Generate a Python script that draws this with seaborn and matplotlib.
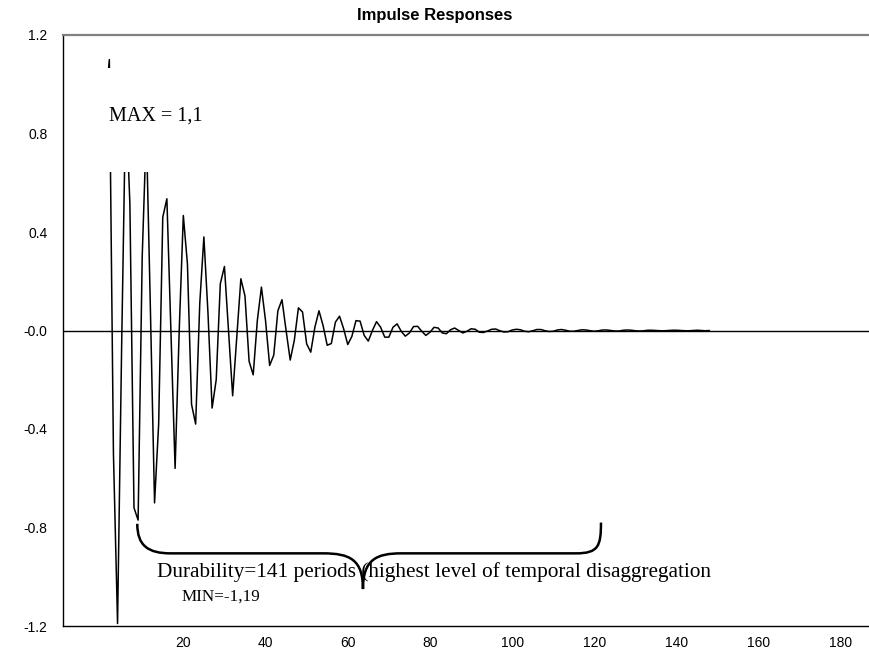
import matplotlib
matplotlib.use("Agg")
import matplotlib.pyplot as plt
from matplotlib.path import Path
from matplotlib.patches import PathPatch, Rectangle
from matplotlib.ticker import FixedLocator, FixedFormatter
import seaborn as sns
import pandas as pd

# impulse response, one value per period
periods = list(range(1, 149))
response = [
    0.90, 1.10, -0.50, -1.19, -0.06, 0.95, 0.515, -0.72, -0.77, 0.30,
    0.82, 0.08, -0.70, -0.38, 0.46, 0.535, -0.02, -0.56, 0.00, 0.467,
    0.27, -0.30, -0.38, 0.11, 0.38, 0.07, -0.315, -0.20, 0.19, 0.26,
    0.00, -0.265, -0.03, 0.21, 0.14, -0.125, -0.18, 0.04, 0.176, 0.04,
    -0.142, -0.10, 0.08, 0.125, 0.00, -0.12, -0.04, 0.092, 0.075, -0.054,
    -0.088, 0.013, 0.08, 0.02, -0.06, -0.053, 0.034, 0.058, 0.007, -0.057,
    -0.024, 0.04, 0.038, -0.02, -0.043, 0.00, 0.036, 0.013, -0.027, -0.027,
    0.013, 0.027, -0.003, -0.023, -0.01, 0.016, 0.017, -0.003, -0.02, -0.007,
    0.013, 0.01, -0.01, -0.013, 0.003, 0.01, 0.00, -0.01, -0.003, 0.007,
    0.005, -0.007, -0.008, -0.002, 0.005, 0.006, -0.001, -0.006, -0.005, 0.002,
    0.005, 0.003, -0.003, -0.005, -0.001, 0.004, 0.004, -0.001, -0.004, -0.003,
    0.002, 0.004, 0.001, -0.003, -0.003, 0.000, 0.003, 0.002, -0.001, -0.003,
    -0.001, 0.002, 0.002, 0.000, -0.002, -0.002, 0.001, 0.002, 0.001, -0.001,
    -0.002, -0.001, 0.001, 0.001, 0.000, -0.001, -0.001, 0.000, 0.001, 0.001,
    0.000, -0.001, -0.001, 0.000, 0.001, 0.000, -0.001, 0.000,
]

y_ticks = [-1.2, -0.8, -0.4, 0.0, 0.4, 0.8, 1.2]
y_tick_labels = ["-1.2", "-0.8", "-0.4", "-0.0", "0.4", "0.8", "1.2"]
x_ticks = [20, 40, 60, 80, 100, 120, 140, 160, 180]
x_tick_labels = ["20", "40", "60", "80", "100", "120", "140", "160", "180"]

title = "Impulse Responses"
max_text = "MAX = 1,1"
min_text = "MIN=-1,19"
dur_text = "Durability=141 periods (highest level of temporal disaggregation"

sns.set_style("white")
sans = ["Liberation Sans Narrow", "Liberation Sans", "DejaVu Sans"]
serif = ["Liberation Serif", "DejaVu Serif"]
plt.rcParams["font.family"] = sans
plt.rcParams["text.color"] = "black"
plt.rcParams["xtick.color"] = "black"
plt.rcParams["ytick.color"] = "black"
plt.rcParams["xtick.labelcolor"] = "black"
plt.rcParams["ytick.labelcolor"] = "black"

df = pd.DataFrame({"period": periods, "response": response})

fig = plt.figure(figsize=(8.69, 6.55), dpi=100)
ax = fig.add_axes([63 / 869, 29 / 655, 1 - 63 / 869, 591 / 655])

ax.axhline(0, color="black", lw=1.0, zorder=1)
sns.lineplot(data=df, x="period", y="response", color="black", lw=1.1,
             ax=ax, zorder=2)

# white box behind the MAX label hides the tall spikes
ax.add_patch(Rectangle((0.5, 0.645), 30, 0.423, facecolor="white",
                       edgecolor="none", zorder=3))
ax.text(1.92, 0.852, max_text, family=serif, fontsize=14.5,
        va="baseline", ha="left", zorder=4)

# curly brace under the decaying part
verts = [
    (8.8, -0.785),
    (8.8, -0.875), (11.5, -0.905), (17.0, -0.905),
    (54.0, -0.905),
    (60.5, -0.905), (63.7, -0.93), (63.7, -1.05),
    (63.7, -0.93), (67.0, -0.905), (73.0, -0.905),
    (115.5, -0.905),
    (121.0, -0.905), (121.6, -0.875), (121.6, -0.78),
]
codes = [Path.MOVETO,
         Path.CURVE4, Path.CURVE4, Path.CURVE4,
         Path.LINETO,
         Path.CURVE4, Path.CURVE4, Path.CURVE4,
         Path.CURVE4, Path.CURVE4, Path.CURVE4,
         Path.LINETO,
         Path.CURVE4, Path.CURVE4, Path.CURVE4]
ax.text(13.67, -1.0, dur_text, family=serif, fontsize=15.3,
        va="baseline", ha="left", zorder=4)
ax.text(19.6, -1.097, min_text, family=serif, fontsize=12.3,
        va="baseline", ha="left", zorder=4)
ax.add_patch(PathPatch(Path(verts, codes), facecolor="none",
                       edgecolor="black", lw=1.8, zorder=5))

ax.set_xlim(-9.27, 186.8)
ax.set_ylim(-1.2, 1.2)
ax.xaxis.set_major_locator(FixedLocator(x_ticks))
ax.xaxis.set_major_formatter(FixedFormatter(x_tick_labels))
ax.xaxis.set_minor_locator(FixedLocator(list(range(5, 190, 5))))
ax.yaxis.set_major_locator(FixedLocator(y_ticks))
ax.yaxis.set_major_formatter(FixedFormatter(y_tick_labels))
ax.tick_params(axis="x", which="both", direction="out", length=4.3,
               width=0.8, labelsize=10, pad=3)
ax.tick_params(axis="y", direction="out", length=8.6, width=0.8,
               labelsize=10, pad=2.5)
ax.set_xlabel("")
ax.set_ylabel("")

ax.spines["right"].set_visible(False)
ax.spines["left"].set_color("black")
ax.spines["left"].set_linewidth(1)
ax.spines["bottom"].set_color("black")
ax.spines["bottom"].set_linewidth(1)
ax.spines["top"].set_color("#808080")
ax.spines["top"].set_linewidth(1.6)

fig.text(0.5, 1 - 20 / 655, title, fontweight="bold", fontsize=12,
         ha="center", va="baseline")

fig.savefig("out.png", dpi=100)
